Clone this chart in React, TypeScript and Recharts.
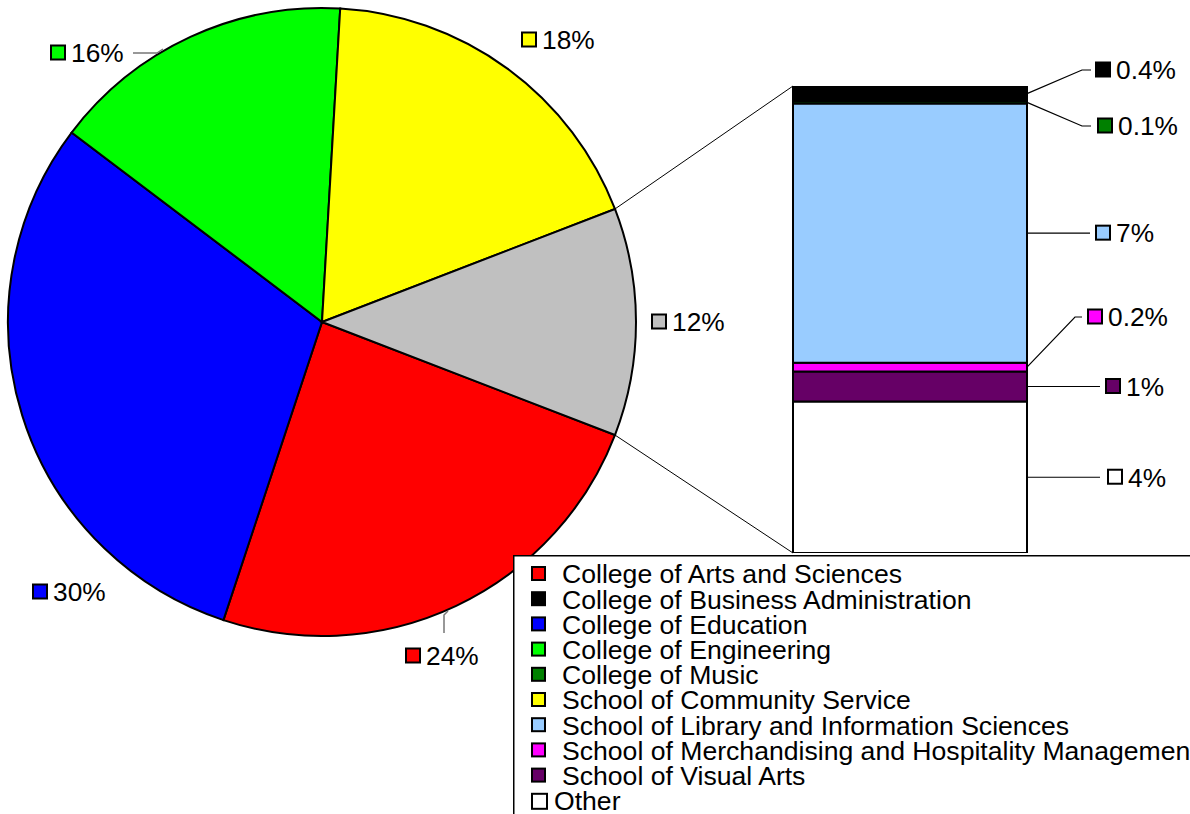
import React from 'react';
import { PieChart, Pie, Cell, BarChart, Bar, XAxis, YAxis } from 'recharts';

const FONT = '"Liberation Sans", Arial, Helvetica, sans-serif';

// Main pie, clockwise starting at the lower edge of the grouped ("other") slice
const pieNames = [
  'College of Arts and Sciences',
  'College of Education',
  'College of Engineering',
  'School of Community Service',
];
const pieValues = [24.2, 30.2, 15.6, 18.2];
const pieColors = ['#FF0000', '#0000FF', '#00FF00', '#FFFF00'];
const groupColor = '#C0C0C0';

// Secondary stacked bar, bottom to top
const barNames = [
  'Other',
  'School of Visual Arts',
  'School of Merchandising and Hospitality Management',
  'School of Library and Information Sciences',
  'College of Music',
  'College of Business Administration',
];
const barValues = [3.8, 0.75, 0.22, 6.5, 0.06, 0.38];
const barColors = ['#FFFFFF', '#660066', '#FF00FF', '#99CCFF', '#008000', '#000000'];

// Legend entries
const legendNames = [
  'College of Arts and Sciences',
  'College of Business Administration',
  'College of Education',
  'College of Engineering',
  'College of Music',
  'School of Community Service',
  'School of Library and Information Sciences',
  'School of Merchandising and Hospitality Management',
  'School of Visual Arts',
  'Other',
];
const legendColors = [
  '#FF0000', '#000000', '#0000FF', '#00FF00', '#008000',
  '#FFFF00', '#99CCFF', '#FF00FF', '#660066', '#FFFFFF',
];

const groupTotal = barValues.reduce((a, b) => a + b, 0);
const GRAND = pieValues.reduce((a, b) => a + b, 0) + groupTotal;

const pieData = [
  ...pieNames.map((name, i) => ({ name, value: pieValues[i], color: pieColors[i] })),
  { name: 'Other group', value: groupTotal, color: groupColor },
];
const barRow: Record<string, any> = { cat: 'other' };
barValues.forEach((v, i) => { barRow['v' + i] = v; });
const barData = [barRow];

const fmt = (v: number) => {
  const p = (v / GRAND) * 100;
  return (p < 0.5 ? p.toFixed(1) : String(Math.round(p))) + '%';
};

// layout constants
const W = 1190;
const H = 814;
const PCX = 322;
const PCY = 322;
const PR = 314;
const BAR_LEFT = 793;
const BAR_RIGHT = 1027;
const BAR_TOP = 86;
const BAR_BOTTOM = 553;
const HALF = (groupTotal / GRAND) * 180;

const pieLabelLayout: { sx: number; cy: number; leader?: number[][] }[] = [
  { sx: 405, cy: 656, leader: [[448, 611], [444, 615], [444, 633]] },
  { sx: 32, cy: 592 },
  { sx: 50, cy: 53, leader: [[163, 49], [157, 53], [133, 53]] },
  { sx: 521, cy: 40 },
  { sx: 651, cy: 322 },
];

const barLabelLayout: { sx: number; lineEnd: number; cy?: number; elbow?: number }[] = [
  { sx: 1107, lineEnd: 1100 },
  { sx: 1105, lineEnd: 1100 },
  { sx: 1087, cy: 317, elbow: 1075, lineEnd: 1082 },
  { sx: 1095, lineEnd: 1090 },
  { sx: 1097, cy: 126, elbow: 1082, lineEnd: 1091 },
  { sx: 1095, cy: 70, elbow: 1082, lineEnd: 1091 },
];

function Tag({ sx, cy, color, text }: { sx: number; cy: number; color: string; text: string }) {
  return (
    <g>
      <rect x={sx + 1} y={cy - 7.5} width={14} height={14} fill={color} stroke="#000" strokeWidth={2} />
      <text x={sx + 21} y={cy + 9.3} fontSize={26.3} fontFamily={FONT} fill="#000">
        {text}
      </text>
    </g>
  );
}

const renderPieLabel = (props: any) => {
  const i = props.index;
  const lay = pieLabelLayout[i];
  const d = pieData[i];
  return (
    <g key={'pl' + i}>
      {lay.leader && (
        <polyline
          points={lay.leader.map((p) => p.join(',')).join(' ')}
          fill="none"
          stroke="#777"
          strokeWidth={1.5}
        />
      )}
      <Tag sx={lay.sx} cy={lay.cy} color={d.color} text={fmt(d.value)} />
    </g>
  );
};

const makeBarLabel = (si: number) => (props: any) => {
  const { x, y, width, height } = props;
  const lay = barLabelLayout[si];
  const x0 = Number(x) + Number(width);
  const y0 = Number(y) + Number(height) / 2;
  let pts: number[][];
  let cy: number;
  if (lay.elbow !== undefined && lay.cy !== undefined) {
    cy = lay.cy;
    pts = [[x0, y0], [lay.elbow, cy], [lay.lineEnd, cy]];
  } else {
    cy = y0;
    pts = [[x0, y0], [lay.lineEnd, y0]];
  }
  return (
    <g key={'bl' + si}>
      <polyline points={pts.map((p) => p.join(',')).join(' ')} fill="none" stroke="#000" strokeWidth={1.2} />
      <Tag sx={lay.sx} cy={cy} color={barColors[si]} text={fmt(barValues[si])} />
    </g>
  );
};

const renderLegend = () => (
  <svg width={700} height={270} style={{ display: 'block' }}>
    <rect x={0.75} y={0.75} width={720} height={300} fill="#FFFFFF" stroke="#000" strokeWidth={1.5} />
    {legendNames.map((n, i) => {
      const cy = 19 + i * 25.2;
      const isOther = n === 'Other';
      return (
        <g key={n}>
          <rect
            x={19}
            y={cy - 7}
            width={isOther ? 15 : 13}
            height={isOther ? 15 : 13}
            fill={legendColors[i]}
            stroke="#000"
            strokeWidth={2}
          />
          <text x={isOther ? 41 : 49} y={cy + 9.3} fontSize={26.6} fontFamily={FONT} fill="#000">
            {n}
          </text>
        </g>
      );
    })}
  </svg>
);

export default function App() {
  const rad = (HALF * Math.PI) / 180;
  const topPt = [PCX + PR * Math.cos(rad), PCY - PR * Math.sin(rad)];
  const botPt = [PCX + PR * Math.cos(rad), PCY + PR * Math.sin(rad)];
  return (
    <div
      style={{
        position: 'absolute',
        left: 0,
        top: 0,
        width: W,
        height: H,
        overflow: 'hidden',
        background: '#FFFFFF',
        fontFamily: FONT,
      }}
    >
      <div style={{ position: 'absolute', left: 0, top: 0 }}>
        <BarChart
          width={W}
          height={H}
          data={barData}
          margin={{ top: BAR_TOP, right: W - BAR_RIGHT, bottom: H - BAR_BOTTOM, left: BAR_LEFT }}
          barCategoryGap={0}
          barGap={0}
        >
          <XAxis dataKey="cat" hide />
          <YAxis hide type="number" domain={[0, groupTotal]} allowDataOverflow />
          {barNames.map((n, i) => (
            <Bar
              key={n}
              name={n}
              dataKey={'v' + i}
              stackId="s"
              fill={barColors[i]}
              stroke="#000"
              strokeWidth={2}
              isAnimationActive={false}
              label={makeBarLabel(i)}
            />
          ))}
        </BarChart>
      </div>
      <div style={{ position: 'absolute', left: 0, top: 0 }}>
        <PieChart width={W} height={H} margin={{ top: 0, right: 0, bottom: 0, left: 0 }}>
          <Pie
            data={pieData}
            dataKey="value"
            nameKey="name"
            cx={PCX}
            cy={PCY}
            outerRadius={PR}
            innerRadius={0}
            startAngle={-HALF}
            endAngle={-HALF - 360}
            stroke="#000"
            strokeWidth={2}
            isAnimationActive={false}
            label={renderPieLabel}
            labelLine={false}
          >
            {pieData.map((d) => (
              <Cell key={d.name} fill={d.color} stroke="#000" strokeWidth={2} />
            ))}
          </Pie>
        </PieChart>
      </div>
      <svg width={W} height={H} style={{ position: 'absolute', left: 0, top: 0, pointerEvents: 'none' }}>
        <line x1={topPt[0]} y1={topPt[1]} x2={BAR_LEFT} y2={BAR_TOP} stroke="#000" strokeWidth={1} />
        <line x1={botPt[0]} y1={botPt[1]} x2={BAR_LEFT} y2={BAR_BOTTOM} stroke="#000" strokeWidth={1} />
      </svg>
      <div style={{ position: 'absolute', left: 513, top: 555, width: 700, height: 270 }}>
        {renderLegend()}
      </div>
    </div>
  );
}
